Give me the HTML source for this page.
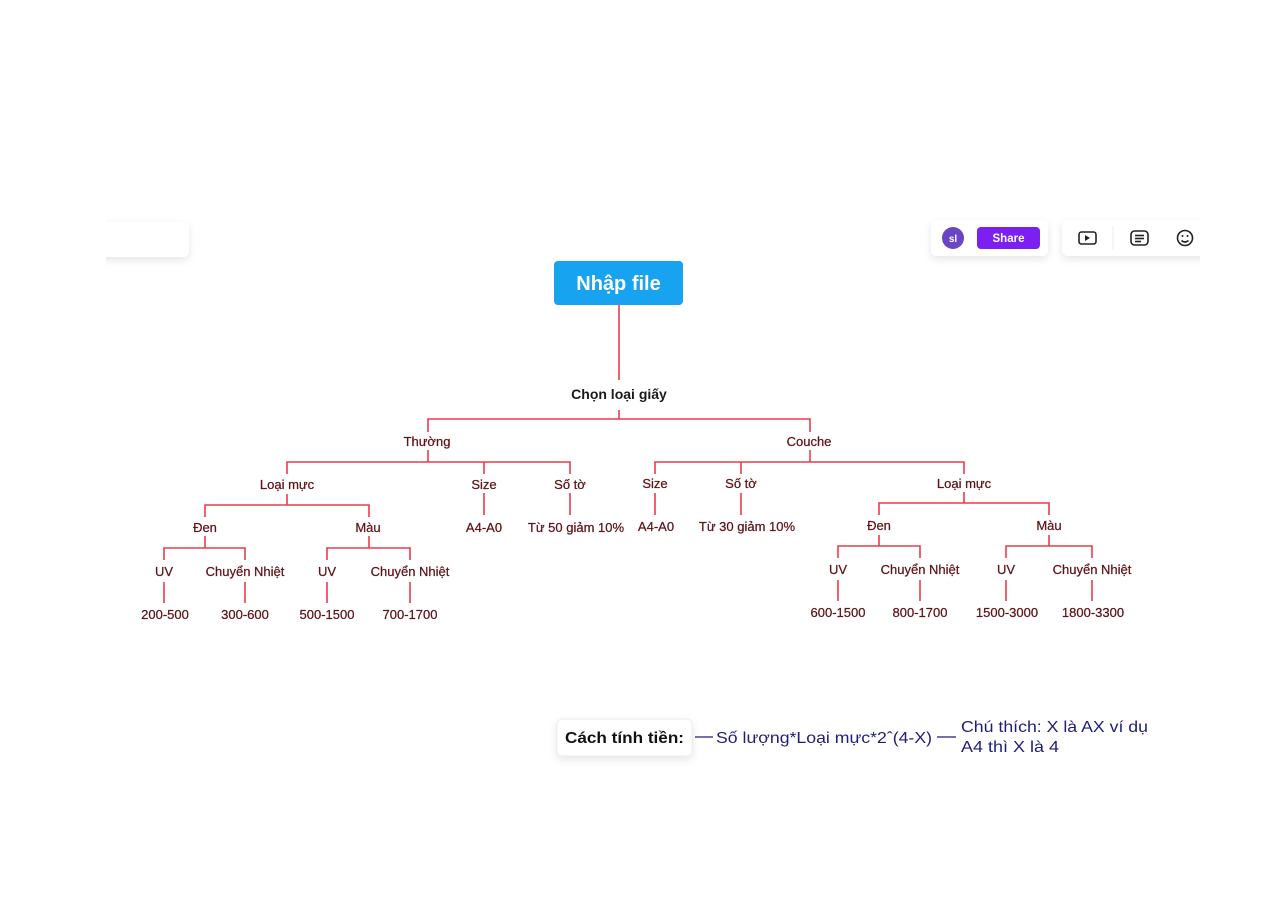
<!DOCTYPE html>
<html><head><meta charset="utf-8"><style>
html,body{margin:0;padding:0;background:#fff;width:1280px;height:905px;overflow:hidden;}
svg{display:block}
text{font-family:"Liberation Sans",sans-serif;}
</style></head><body>
<svg width="1280" height="905" viewBox="0 0 1280 905" xmlns="http://www.w3.org/2000/svg">
<defs>
<filter id="sh" x="-20%" y="-40%" width="140%" height="200%"><feDropShadow dx="0" dy="3" stdDeviation="4" flood-color="#000" flood-opacity="0.10"/></filter>
</defs>
<rect x="0" y="0" width="1280" height="905" fill="#fff"/>
<rect x="90" y="222" width="99" height="35" rx="6" fill="#fff" filter="url(#sh)"/>
<rect x="0" y="200" width="106" height="80" fill="#fff"/>
<rect x="931" y="220" width="117" height="36" rx="6" fill="#fff" filter="url(#sh)"/>
<rect x="1062" y="220" width="150" height="36" rx="6" fill="#fff" filter="url(#sh)"/>
<rect x="1200" y="200" width="80" height="80" fill="#fff"/>
<circle cx="953" cy="238" r="11" fill="#6a45c4"/>
<text x="953" y="242" font-size="10" fill="#fff" text-anchor="middle" font-weight="bold">sl</text>
<rect x="977" y="227" width="63" height="22" rx="4" fill="#7b1ff2"/>
<text x="1008.5" y="242" font-size="11.5" fill="#fff" text-anchor="middle" font-weight="bold">Share</text>
<g fill="none" stroke="#222" stroke-width="1.6">
<rect x="1079" y="232" width="17" height="12" rx="2.5"/>
<rect x="1131" y="231" width="17" height="14" rx="3.5"/>
<line x1="1135" y1="235.5" x2="1144" y2="235.5"/><line x1="1135" y1="238.5" x2="1144" y2="238.5"/><line x1="1135" y1="241.5" x2="1141" y2="241.5"/>
<circle cx="1185" cy="238" r="7.5"/>
<path d="M1181.5 240.5 Q1185 243.5 1188.5 240.5"/>
</g>
<path d="M1085 235 L1090 238 L1085 241 Z" fill="#222"/>
<line x1="1113" y1="226" x2="1113" y2="250" stroke="#eee"/>
<circle cx="1182.5" cy="236" r="1" fill="#222"/><circle cx="1187.5" cy="236" r="1" fill="#222"/>

<rect x="554" y="261" width="129" height="44" rx="4" fill="#17a3f0"/>
<text x="618.5" y="290" font-size="20" font-weight="bold" fill="#fff" text-anchor="middle">Nhập file</text>

<g stroke="#ec3b4b" stroke-width="1.6" fill="none">
<line x1="619" y1="305" x2="619" y2="380"/>
<path d="M619 410 V419 M428 432 V419 H810 V432"/>
<path d="M428 450 V462 M287 474 V462 H570 V474 M484 462 V474"/>
<path d="M810 450 V462 M655 474 V462 H964 V474 M741 462 V474"/>
<path d="M484 493 V515 M570 493 V515 M655 493 V515 M741 493 V515"/>
<path d="M287 494 V505 M205 517 V505 H369 V517"/>
<path d="M205 536 V548 M164 560 V548 H245 V560"/>
<path d="M369 536 V548 M327 560 V548 H410 V560"/>
<path d="M164 582 V603 M245 582 V603 M327 582 V603 M410 582 V603"/>
<path d="M964 492 V503 M879 515 V503 H1049 V515"/>
<path d="M879 535 V546 M838 558 V546 H920 V558"/>
<path d="M1049 535 V546 M1006 558 V546 H1092 V558"/>
<path d="M838 580 V601 M920 580 V601 M1006 580 V601 M1092 580 V601"/>
</g>

<text x="619" y="399" font-size="14" font-weight="bold" fill="#1a1a1a" text-anchor="middle">Chọn loại giấy</text>
<g font-size="13" fill="#5e1418" text-anchor="middle" stroke="#5e1418" stroke-width="0.25">
<text x="427" y="446">Thường</text>
<text x="809" y="446">Couche</text>
<text x="287" y="489">Loại mực</text>
<text x="484" y="489">Size</text>
<text x="570" y="489">Số tờ</text>
<text x="655" y="488">Size</text>
<text x="741" y="488">Số tờ</text>
<text x="964" y="488">Loại mực</text>
<text x="484" y="532">A4-A0</text>
<text x="576" y="532">Từ  50 giảm 10%</text>
<text x="656" y="531">A4-A0</text>
<text x="747" y="531">Từ 30 giảm 10%</text>
<text x="205" y="532">Đen</text>
<text x="368" y="532">Màu</text>
<text x="879" y="530">Đen</text>
<text x="1049" y="530">Màu</text>
<text x="164" y="576">UV</text>
<text x="245" y="576">Chuyển Nhiệt</text>
<text x="327" y="576">UV</text>
<text x="410" y="576">Chuyển Nhiệt</text>
<text x="838" y="574">UV</text>
<text x="920" y="574">Chuyển Nhiệt</text>
<text x="1006" y="574">UV</text>
<text x="1092" y="574">Chuyển Nhiệt</text>
<text x="165" y="619">200-500</text>
<text x="245" y="619">300-600</text>
<text x="327" y="619">500-1500</text>
<text x="410" y="619">700-1700</text>
<text x="838" y="617">600-1500</text>
<text x="920" y="617">800-1700</text>
<text x="1007" y="617">1500-3000</text>
<text x="1093" y="617">1800-3300</text>
</g>

<rect x="557" y="719" width="135" height="37" rx="5" fill="#fff" stroke="#eee" filter="url(#sh)"/>
<text x="565" y="743" font-size="16" font-weight="bold" fill="#111" textLength="119" lengthAdjust="spacingAndGlyphs">Cách tính tiền:</text>
<g stroke="#1e1e6e" stroke-width="1.3"><line x1="695" y1="737" x2="713" y2="737"/><line x1="937" y1="737" x2="956" y2="737"/></g>
<g font-size="16" fill="#1e1e78">
<text x="716" y="743" textLength="216" lengthAdjust="spacingAndGlyphs">Số lượng*Loại mực*2ˆ(4-X)</text>
<text x="961" y="732" textLength="187" lengthAdjust="spacingAndGlyphs">Chú thích: X là AX ví dụ</text>
<text x="961" y="752" textLength="98" lengthAdjust="spacingAndGlyphs">A4 thì X là 4</text>
</g>
</svg>
</body></html>
